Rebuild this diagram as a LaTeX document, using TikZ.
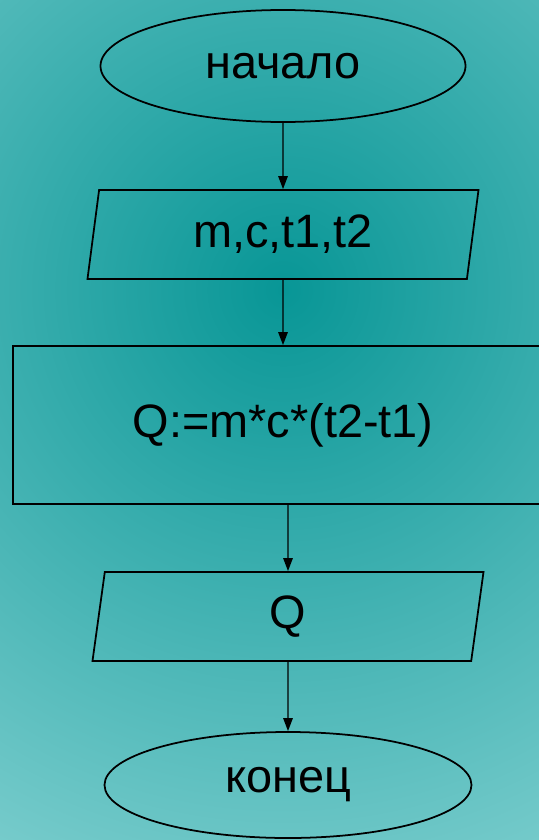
\documentclass[tikz,border=0pt]{standalone}
\usepackage{fontspec}
\setmainfont{Liberation Sans}
\usepackage{xcolor}
\usepackage{tikz}
\usetikzlibrary{positioning,shapes.geometric,arrows.meta}

\definecolor{bgdark}{HTML}{089696}
\definecolor{bglight}{HTML}{76CBCB}
\pgfdeclareradialshading{bgglow}{\pgfpoint{0bp}{0bp}}{color(0bp)=(bgdark); color(25bp)=(bglight); color(50bp)=(bglight)}

\begin{document}
\begin{tikzpicture}[x=0.03cm, y=-0.03cm,
    every node/.style={font=\fontsize{40}{48}\selectfont, text=black},
    term/.style={ellipse, draw, line width=1.5pt, minimum width=10.95cm, minimum height=3.36cm},
    io/.style={trapezium, draw, line width=1.5pt, trapezium left angle=76, trapezium right angle=104,
        trapezium stretches body, minimum width=11.73cm, minimum height=2.67cm},
    proc/.style={rectangle, draw, line width=1.5pt, minimum width=16.2cm, minimum height=4.74cm},
    arr/.style={-{Triangle[length=11pt,width=8pt]}, line width=1.2pt}]

    \useasboundingbox (0,0) rectangle (539,840);
    \begin{scope}
        \clip (0,0) rectangle (539,840);
        \fill[bglight] (0,0) rectangle (539,840);
        \shade[shading=bgglow] (283,290) circle (18.6cm);
    \end{scope}

    \node[term] (start) at (283,66) {начало};
    \node[io] (input) at (283,234.5) {m,c,t1,t2};
    \node[proc] (calc) at (283,425) {Q:=m*c*(t2-t1)};
    \node[io] (output) at (288,616.5) {Q};
    \node[term, minimum width=11.01cm, minimum height=3.18cm] (stop) at (288,785) {конец};

    \draw[arr] (start) -- (input);
    \draw[arr] (input) -- (calc);
    \draw[arr] (calc.south -| output.north) -- (output);
    \draw[arr] (output) -- (stop);
\end{tikzpicture}
\end{document}
